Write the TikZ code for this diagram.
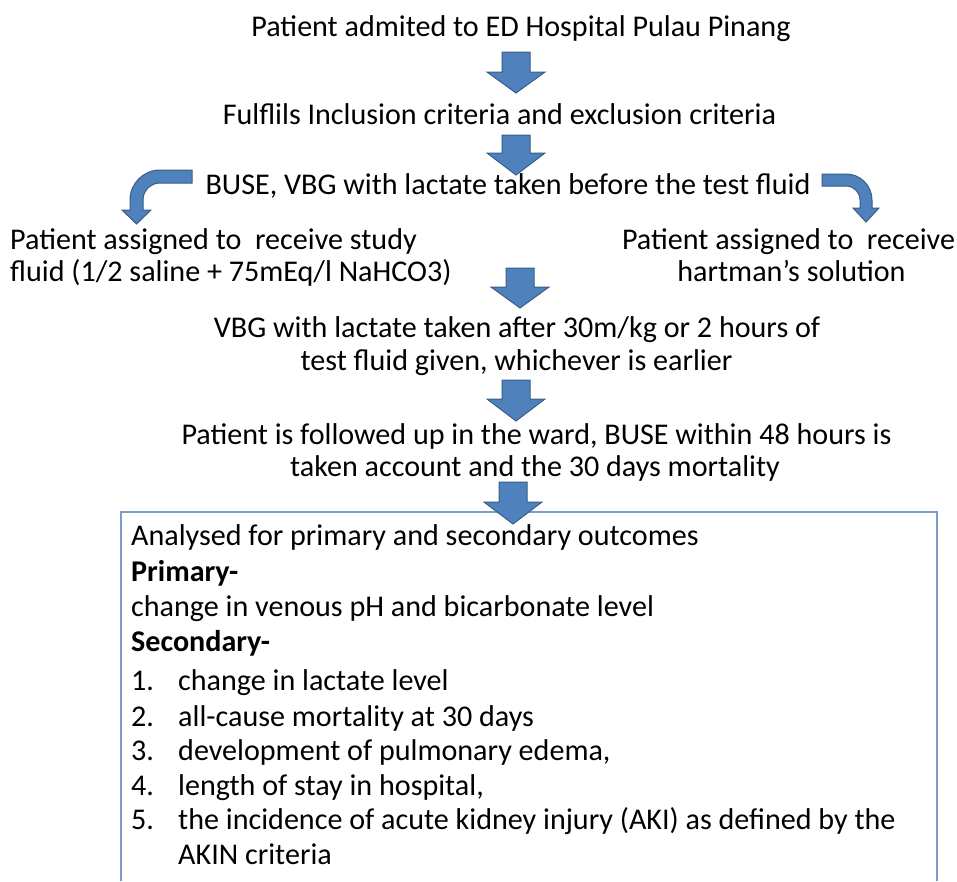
\documentclass[tikz,border=0pt]{standalone}
\usepackage{fontspec}
\setmainfont{Carlito}
\newcommand\blockdown[4]{% cx, top, headline, tip
  \draw[blockarr] (#1-14,#2) -- (#1+14,#2) -- (#1+14,#3) -- (#1+29,#3) -- (#1,#4)
    -- (#1-29,#3) -- (#1-14,#3) -- cycle;}
\begin{document}
\begin{tikzpicture}[x=1pt,y=-1pt,
  txt/.style={inner sep=0pt,font=\fontsize{30.1}{35}\selectfont,text=black},
  blockarr/.style={fill=arrblue,draw=arredge,line width=1pt,line join=miter},
  boxline/.style={draw=boxblue,line width=1.1pt}]
\definecolor{arrblue}{HTML}{4F81BD}
\definecolor{arredge}{HTML}{385D8A}
\definecolor{boxblue}{HTML}{7A9CCB}
\useasboundingbox (0,0) rectangle (957,881);
\fill[white] (0,0) rectangle (957,881);
% outcome box (open at bottom)
\draw[boxline] (121,881) -- (121,512) -- (937,512) -- (937,881);
% down arrows
\blockdown{516}{52}{72}{93}
\blockdown{516}{135}{153}{175}
\blockdown{520}{268}{287}{308}
\blockdown{516}{380}{399}{421}
\blockdown{513}{482}{502}{524}
% bent arrows
\draw[blockarr] (192,170) -- (160,170) arc[start angle=270,end angle=180,radius=30]
  -- (130,210) -- (122,210) -- (136.5,224) -- (151,210) -- (143,210) -- (143,200)
  arc[start angle=180,end angle=270,radius=17] -- (192,183) -- cycle;
\draw[blockarr] (822,174) -- (846,174) arc[start angle=270,end angle=360,radius=26]
  -- (872,208) -- (879,208) -- (866,222) -- (853,208) -- (860,208) -- (860,200)
  arc[start angle=360,end angle=270,radius=14] -- (822,186) -- cycle;
% texts
\node[txt,anchor=base] (t1) at (521,36) {Patient admited to ED Hospital Pulau Pinang};
\node[txt,anchor=base] (t2) at (499.5,124) {Fulflils Inclusion criteria and exclusion criteria};
\node[txt,anchor=base] (t3) at (508,194) {BUSE, VBG with lactate taken before the test fluid};
\node[txt,anchor=base west] (l1) at (10,249) {Patient assigned to\ \ receive study};
\node[txt,anchor=base west] (l2) at (10,281) {fluid (1/2 saline + 75mEq/l NaHCO3)};
\node[txt,anchor=base] (r1) at (788.5,249) {Patient assigned to\ \ receive};
\node[txt,anchor=base] (r2) at (791.5,281) {hartman’s solution};
\node[txt,anchor=base] (v1) at (517,337) {VBG with lactate taken after 30m/kg or 2 hours of};
\node[txt,anchor=base] (v2) at (516.5,370) {test fluid given, whichever is earlier};
\node[txt,anchor=base] (f1) at (536.5,444) {Patient is followed up in the ward, BUSE within 48 hours is};
\node[txt,anchor=base] (f2) at (535,476) {taken account and the 30 days mortality};
% box contents
\node[txt,anchor=base west] (b1) at (131,545) {Analysed for primary and secondary outcomes};
\node[txt,anchor=base west] (b2) at (131,581) {\bfseries Primary-};
\node[txt,anchor=base west] (b3) at (131,616) {change in venous pH and bicarbonate level};
\node[txt,anchor=base west] (b4) at (131,651) {\bfseries Secondary-};
\node[txt,anchor=base west] (n1) at (131,690) {1.};
\node[txt,anchor=base west] (i1) at (178,690) {change in lactate level};
\node[txt,anchor=base west] (n2) at (131,726) {2.};
\node[txt,anchor=base west] (i2) at (178,726) {all-cause mortality at 30 days};
\node[txt,anchor=base west] (n3) at (131,760) {3.};
\node[txt,anchor=base west] (i3) at (178,760) {development of pulmonary edema,};
\node[txt,anchor=base west] (n4) at (131,795) {4.};
\node[txt,anchor=base west] (i4) at (178,795) {length of stay in hospital,};
\node[txt,anchor=base west] (n5) at (131,829) {5.};
\node[txt,anchor=base west] (i5) at (178,829) {the incidence of acute kidney injury (AKI) as defined by the};
\node[txt,anchor=base west] (i5b) at (178,864) {AKIN criteria};
\end{tikzpicture}
\end{document}
